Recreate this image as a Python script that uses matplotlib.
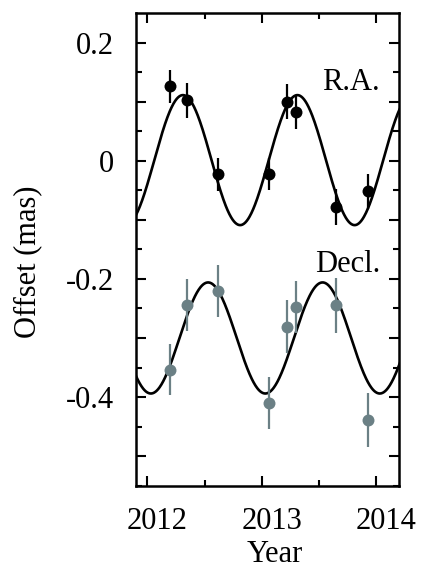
import numpy as np
import matplotlib
matplotlib.use("Agg")
import matplotlib.pyplot as plt
from matplotlib.ticker import FixedLocator, FuncFormatter
from matplotlib.transforms import ScaledTranslation

plt.rcParams['font.family'] = ['Liberation Serif', 'DejaVu Serif']
plt.rcParams['axes.unicode_minus'] = False

# observing epochs (decimal year)
epochs = [2012.197, 2012.348, 2012.614, 2013.062, 2013.217, 2013.298, 2013.648, 2013.925]

# position offsets and 1-sigma errors (mas)
ra_offset = [0.126, 0.102, -0.023, -0.023, 0.100, 0.082, -0.078, -0.052]
ra_err = [0.028, 0.029, 0.028, 0.027, 0.030, 0.028, 0.030, 0.029]
dec_offset = [-0.354, -0.244, -0.220, -0.410, -0.281, -0.247, -0.245, -0.439]
dec_err = [0.043, 0.044, 0.044, 0.044, 0.045, 0.044, 0.046, 0.046]

# fitted annual parallax model: amplitude, epoch of maximum, mean offset
ra_model = (0.110, 2012.31, 0.001)
dec_model = (0.094, 2012.53, -0.300)

year_ticks = [2012, 2013, 2014]
offset_ticks = [0.2, 0, -0.2, -0.4]

black = 'black'
grey = '#6b8085'

fig = plt.figure(figsize=(4.23, 5.69), dpi=100)
ax = fig.add_axes([0.3215, 0.1464, 0.6218, 0.8308])

t = np.linspace(2011.85, 2014.25, 600)
for (amp, t0, c) in (ra_model, dec_model):
    ax.plot(t, c + amp * np.cos(2 * np.pi * (t - t0)), color='black', lw=1.9, zorder=2)

ax.errorbar(epochs, ra_offset, yerr=ra_err, fmt='o', color=black, ms=8.6,
            mew=0, elinewidth=1.6, capsize=0, zorder=3)
ax.errorbar(epochs, dec_offset, yerr=dec_err, fmt='o', color=grey, ms=8.6,
            mew=0, elinewidth=1.6, capsize=0, zorder=3)

ax.text(2014.032, 0.12, 'R.A.', ha='right', va='baseline', fontsize=22)
ax.text(2014.032, -0.189, 'Decl.', ha='right', va='baseline', fontsize=22)

ax.set_xlim(2011.90, 2014.198)
ax.set_ylim(-0.55, 0.25)

ax.xaxis.set_major_locator(FixedLocator(year_ticks))
ax.xaxis.set_minor_locator(FixedLocator([2012.5, 2013.5]))
ax.xaxis.set_major_formatter(FuncFormatter(lambda v, p: '%d' % round(v)))

ax.yaxis.set_major_locator(FixedLocator(np.round(np.arange(-0.5, 0.21, 0.1), 2)))
ax.yaxis.set_minor_locator(FixedLocator(np.round(np.arange(-0.55, 0.25, 0.1), 2)))


def offset_label(v, pos):
    if not any(abs(v - s) < 1e-6 for s in offset_ticks):
        return ''
    if abs(v) < 1e-9:
        return '0'
    return '%.1f' % v


ax.yaxis.set_major_formatter(FuncFormatter(offset_label))

ax.tick_params(which='both', direction='in', top=True, right=True, width=1.5,
               labelsize=22, color='black')
ax.tick_params(which='major', length=7.5)
ax.tick_params(which='minor', length=4)
ax.tick_params(axis='y', pad=16)
ax.tick_params(axis='x', pad=15.5)

for s in ax.spines.values():
    s.set_linewidth(1.8)

# nudge year labels to the right
shift = ScaledTranslation(10 / 100, 0, fig.dpi_scale_trans)
for tick in ax.xaxis.get_major_ticks():
    tick.label1.set_transform(tick.label1.get_transform() + shift)

fig.text(275 / 423, 7 / 569, 'Year', ha='center', va='baseline', fontsize=22)
fig.text(35.5 / 423, 307.5 / 569, 'Offset (mas)', rotation=90, rotation_mode='anchor',
         ha='center', va='baseline', fontsize=22)

fig.savefig('out.png', dpi=100)
